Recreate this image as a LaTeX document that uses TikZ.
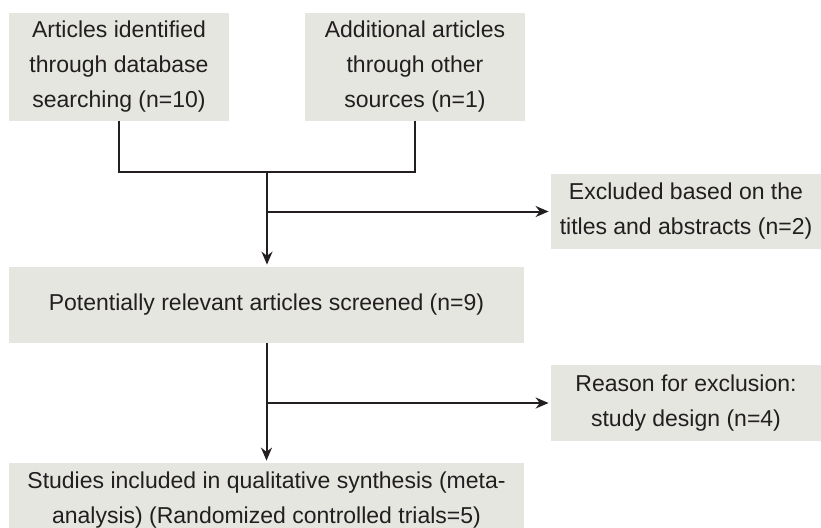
\documentclass[tikz,border=0pt]{standalone}
\usepackage{fontspec}
\setmainfont{Liberation Sans}
\usetikzlibrary{arrows.meta}
\definecolor{BoxGray}{RGB}{228,230,223}
\definecolor{InkGray}{RGB}{35,31,32}

\begin{document}
\begin{tikzpicture}[x=0.5pt, y=-0.5pt,
    box/.style={fill=BoxGray, text=InkGray, align=center, inner sep=0pt,
      font=\fontsize{11.5}{17.5}\selectfont},
    link/.style={draw=InkGray, line width=1pt},
    flow/.style={link, shorten >=1pt, -{Stealth[length=6.5pt, width=5.5pt]}}]
      \clip (0,0) rectangle (821,527);
      \node[box, minimum width=110pt, minimum height=54pt] (found) at (119,67) {Articles identified\\through database\\searching (n=10)};
      \node[box, minimum width=110pt, minimum height=54pt] (other) at (415,67) {Additional articles\\through other\\sources (n=1)};
      \node[box, minimum width=135pt, minimum height=37.5pt] (titles) at (686,211.5) {Excluded based on the\\titles and abstracts (n=2)};
      \node[box, minimum width=257.5pt, minimum height=38pt] (screened) at (266.5,305) {Potentially relevant articles screened (n=9)};
      \node[box, minimum width=135pt, minimum height=38pt] (design) at (686,403) {Reason for exclusion:\\study design (n=4)};
      \node[box, minimum width=257.5pt, minimum height=37pt] (included) at (266.5,500) {Studies included in qualitative synthesis (meta-\\analysis) (Randomized controlled trials=5)};
      % merging the two sources
      \coordinate (merge) at (267,172);
      \draw[link] (found.south) |- (merge) -| (other.south);
      \draw[flow] (merge) -- (merge |- screened.north);
      \draw[flow] (merge |- titles.west) -- (titles.west);
      \draw[flow] (screened.south) -- (included.north);
      \draw[flow] (screened.south |- design.west) -- (design.west);
    \end{tikzpicture}
\end{document}
